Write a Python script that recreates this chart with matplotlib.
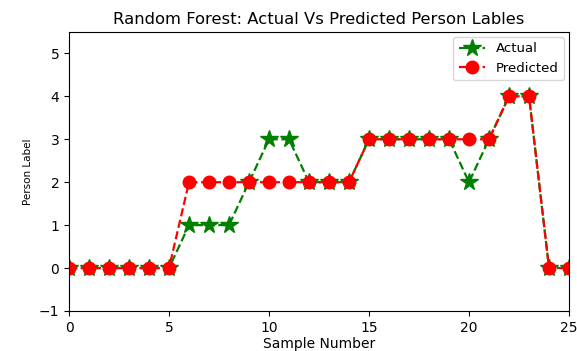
import matplotlib
matplotlib.use("Agg")
import matplotlib.pyplot as plt

samples = list(range(26))
actual = [0, 0, 0, 0, 0, 0, 1, 1, 1, 2, 3, 3, 2, 2, 2, 3, 3, 3, 3, 3, 2, 3, 4, 4, 0, 0]
predicted = [0, 0, 0, 0, 0, 0, 2, 2, 2, 2, 2, 2, 2, 2, 2, 3, 3, 3, 3, 3, 3, 3, 4, 4, 0, 0]

fig = plt.figure(figsize=(5.77, 3.51), dpi=100)
ax = fig.add_axes([0.1196, 0.114, 0.8666, 0.795])

ax.plot(samples, actual, color="green", linestyle="--", marker="*",
        markersize=13, linewidth=1.6, label="Actual")
ax.plot(samples, predicted, color="red", linestyle="--", marker="o",
        markersize=9, linewidth=1.6, label="Predicted")

ax.set_xlim(0, 25)
ax.set_ylim(-1, 5.5)
ax.set_title("Random Forest: Actual Vs Predicted Person Lables", fontsize=11.8)
ax.set_xlabel("Sample Number", fontsize=10, labelpad=2)
ax.set_ylabel("Person Label", fontsize=7.5)
ax.tick_params(labelsize=10)
ax.legend(loc="upper right", numpoints=1, fontsize=9.5, handlelength=2,
          borderaxespad=0.4)

fig.savefig("out.png", dpi=100)
